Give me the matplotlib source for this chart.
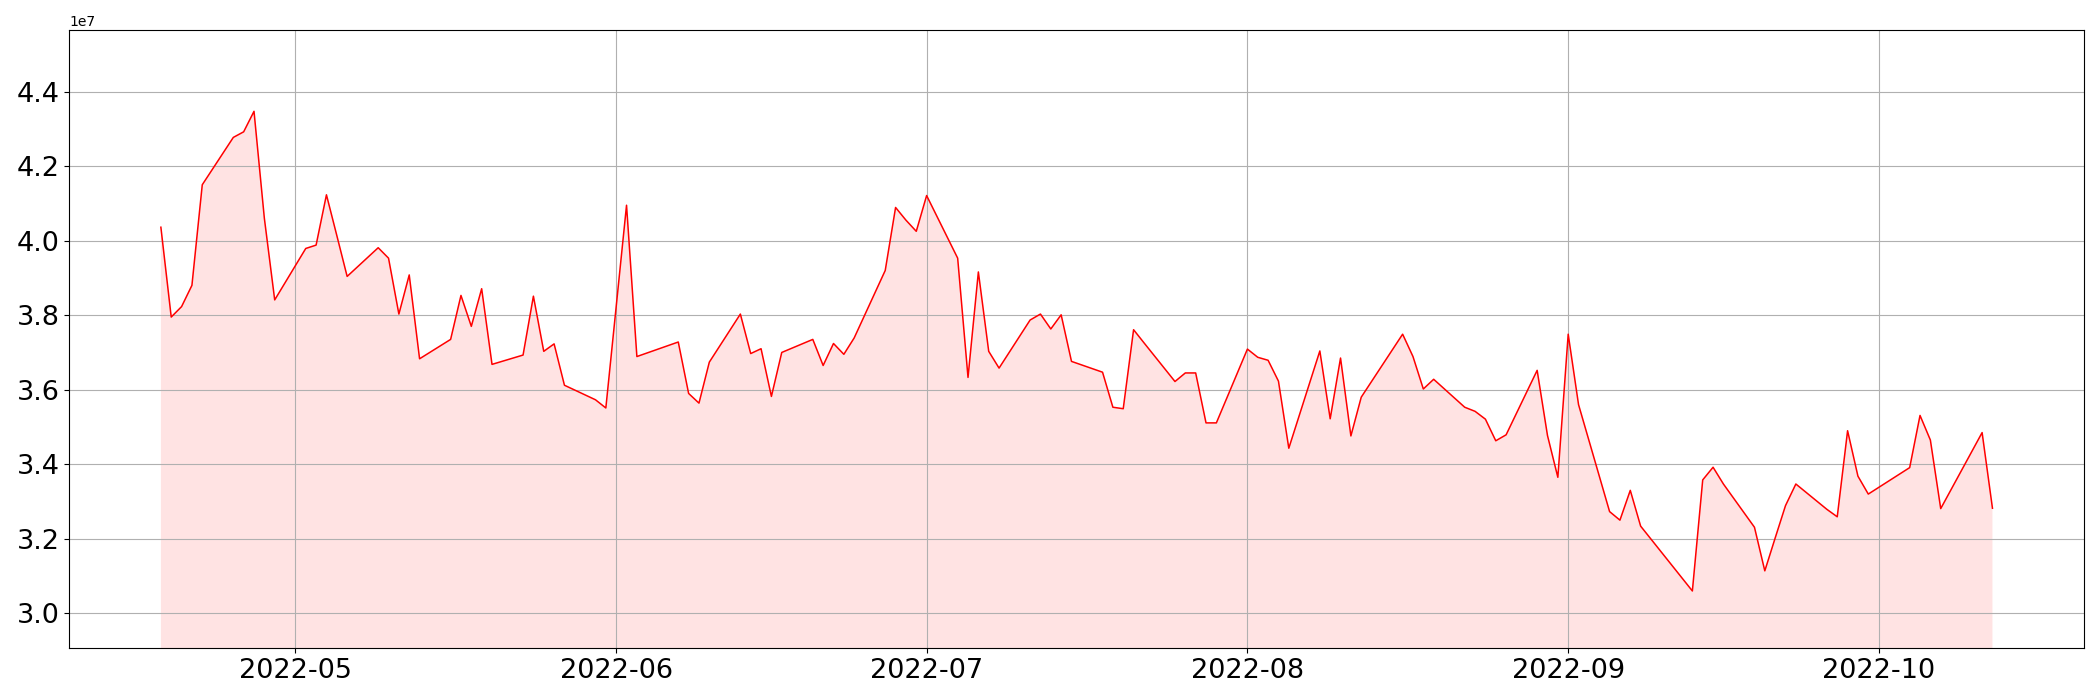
import numpy as np
import pandas as pd
import matplotlib
matplotlib.use('Agg')
import matplotlib.pyplot as plt


apr_days = [18, 19, 20, 21, 22, 25, 26, 27, 28, 29]
apr_vals = [4.036, 3.795, 3.823, 3.880, 4.150, 4.277, 4.292, 4.347, 4.060, 3.841]

may_days = [2, 3, 4, 5, 6, 9, 10, 11, 12, 13, 16, 17, 18, 19, 20, 23, 24, 25, 26, 27, 30, 31]
may_vals = [3.979, 3.988, 4.123, 4.014, 3.904, 3.981, 3.953, 3.803, 3.908, 3.683,
            3.735, 3.853, 3.770, 3.871, 3.668, 3.693, 3.851, 3.703, 3.723, 3.612,
            3.573, 3.551]

jun_days = [2, 3, 7, 8, 9, 10, 13, 14, 15, 16, 17, 20, 21, 22, 23, 24, 27, 28, 29, 30]
jun_vals = [4.095, 3.689, 3.728, 3.590, 3.564, 3.674, 3.803, 3.697, 3.710, 3.582,
            3.700, 3.735, 3.665, 3.724, 3.695, 3.739, 3.920, 4.089, 4.055, 4.025]

jul_days = [1, 4, 5, 6, 7, 8, 11, 12, 13, 14, 15, 18, 19, 20, 21, 22, 25, 26, 27, 28, 29]
jul_vals = [4.121, 3.953, 3.633, 3.916, 3.703, 3.658, 3.787, 3.803, 3.763, 3.801,
            3.676, 3.647, 3.553, 3.549, 3.761, 3.726, 3.622, 3.645, 3.645, 3.511, 3.511]

aug_days = [1, 2, 3, 4, 5, 8, 9, 10, 11, 12, 16, 17, 18, 19, 22, 23, 24, 25, 26, 29, 30, 31]
aug_vals = [3.709, 3.687, 3.679, 3.623, 3.443, 3.704, 3.522, 3.685, 3.476, 3.580,
            3.749, 3.689, 3.602, 3.628, 3.553, 3.542, 3.521, 3.463, 3.479, 3.652,
            3.477, 3.365]

sep_days = [1, 2, 5, 6, 7, 8, 13, 14, 15, 16, 19, 20, 21, 22, 23, 26, 27, 28, 29, 30]
sep_vals = [3.749, 3.560, 3.273, 3.250, 3.330, 3.234, 3.060, 3.358, 3.392, 3.347,
            3.231, 3.114, 3.202, 3.289, 3.347, 3.279, 3.259, 3.490, 3.368, 3.320]

oct_days = [4, 5, 6, 7, 11, 12]
oct_vals = [3.391, 3.531, 3.465, 3.281, 3.485, 3.282]

months = [(4, apr_days, apr_vals), (5, may_days, may_vals), (6, jun_days, jun_vals),
          (7, jul_days, jul_vals), (8, aug_days, aug_vals), (9, sep_days, sep_vals),
          (10, oct_days, oct_vals)]

dates = []
values = []
for m, days, vals in months:
    for d, v in zip(days, vals):
        dates.append(pd.Timestamp(2022, m, d))
        values.append(v * 1e7)
dates = pd.to_datetime(dates)
values = np.array(values)

fig, ax = plt.subplots(figsize=(21, 7), dpi=100)
ax.plot(dates, values, color='red', linewidth=1.1)
ax.fill_between(dates, values, 0, color='red', alpha=0.11, linewidth=0)
ax.set_ylim(values.min() * 0.95, values.max() * 1.05)
ax.grid(True)
ax.tick_params(labelsize=19.5)

plt.subplots_adjust(left=0.033, right=0.9924, top=0.9567, bottom=0.0743)
plt.savefig('out.png')
